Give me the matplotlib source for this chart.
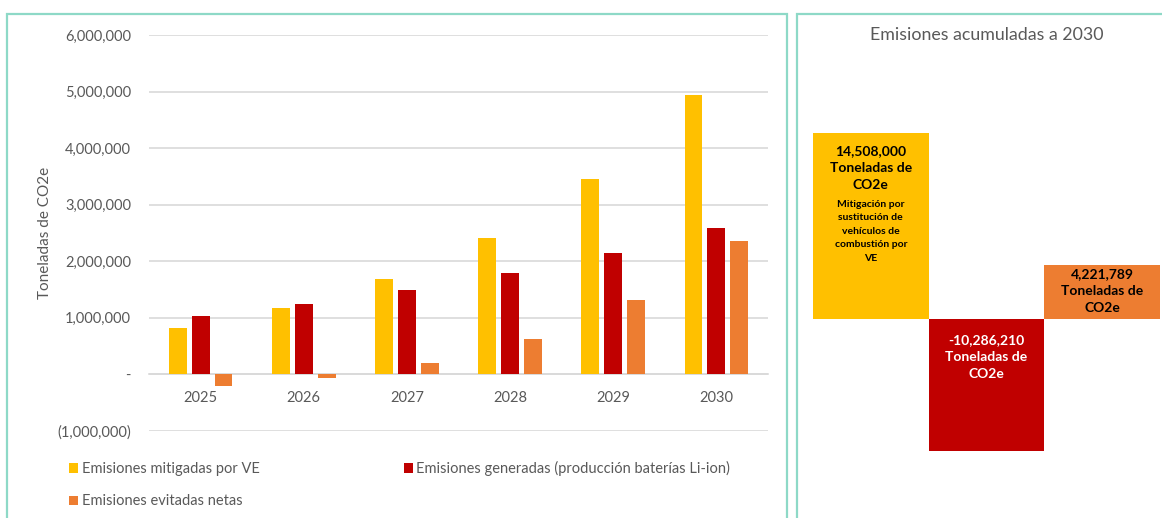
import matplotlib.pyplot as plt
import numpy as np
from matplotlib.patches import Rectangle
from matplotlib.ticker import FuncFormatter, MultipleLocator

plt.rcParams['font.family'] = ['Lato', 'DejaVu Sans']

# ========================================
# Datos
# ========================================
anios = ["2025", "2026", "2027", "2028", "2029", "2030"]
mitigadas = [820000, 1180000, 1690000, 2420000, 3460000, 4938000]
generadas = [1030000, 1250000, 1490000, 1790000, 2140000, 2586210]
netas = [-210000, -70000, 200000, 630000, 1320000, 2351789]

acum_labels = ["mitigadas", "generadas", "netas"]
acum_valores = [14508000, -10286210, 4221789]

# ========================================
# Colores
# ========================================
color_mitigadas = "#FFC000"
color_generadas = "#C00000"
color_netas = "#ED7D31"
color_texto = "#595959"
color_grid = "#D9D9D9"
color_borde = "#8ED9C7"

W, H = 1162, 518
fig = plt.figure(figsize=(W / 100, H / 100), dpi=100)

# marcos de los dos paneles
fig.patches.append(Rectangle((7 / W, -0.1), 780 / W, 1.1 - 14 / H, transform=fig.transFigure,
                             fill=False, edgecolor=color_borde, linewidth=1.6))
fig.patches.append(Rectangle((797 / W, -0.1), 0.5, 1.1 - 14 / H, transform=fig.transFigure,
                             fill=False, edgecolor=color_borde, linewidth=1.6))

# ==========================================================
#   Panel izquierdo: emisiones por año
# ==========================================================
ax = fig.add_axes([149 / W, (H - 431) / H, 619 / W, 396 / H])

x = np.arange(len(anios))
ancho = 0.174
paso = 0.222
ax.bar(x - paso, mitigadas, ancho, color=color_mitigadas, label="Emisiones mitigadas por VE", zorder=3)
ax.bar(x, generadas, ancho, color=color_generadas,
       label="Emisiones generadas (producción baterías Li-ion)", zorder=3)
ax.bar(x + paso, netas, ancho, color=color_netas, label="Emisiones evitadas netas", zorder=3)

ax.set_xlim(-0.5, len(anios) - 0.5)
ax.set_ylim(-1000000, 6000000)
ax.yaxis.set_major_locator(MultipleLocator(1000000))


def formato_miles(v, pos):
    if abs(v) < 1:
        return "-"
    if v < 0:
        return "({:,.0f})".format(-v)
    return "{:,.0f}".format(v)


ax.yaxis.set_major_formatter(FuncFormatter(formato_miles))
ax.grid(axis="y", color=color_grid, linewidth=1.2, zorder=0)
for s in ["top", "left", "right"]:
    ax.spines[s].set_visible(False)
ax.spines["bottom"].set_position(("data", 0))
ax.spines["bottom"].set_color(color_grid)
ax.spines["bottom"].set_linewidth(1.2)
ax.set_xticks(x)
ax.set_xticklabels(anios)
ax.tick_params(axis="x", length=0, pad=12, labelsize=10.5, labelcolor=color_texto)
ax.tick_params(axis="y", length=0, pad=13, labelsize=10.5, labelcolor=color_texto)
ax.set_ylabel("Toneladas de CO2e", fontsize=11, color=color_texto, labelpad=4)

h, l = ax.get_legend_handles_labels()
orden = [0, 2, 1]
fig.legend([h[i] for i in orden], [l[i] for i in orden], ncol=2,
           loc="upper left", bbox_to_anchor=(56 / W, 1 - 448 / H),
           frameon=False, fontsize=10.5, labelcolor=color_texto,
           handlelength=0.6, handleheight=0.6, handletextpad=0.25,
           columnspacing=9.9, labelspacing=1.25)

# ==========================================================
#   Panel derecho: emisiones acumuladas a 2030
# ==========================================================
fig.text(987 / W, 1 - 35 / H, "Emisiones acumuladas a 2030", ha="center", va="center",
         fontsize=12.8, color=color_texto)

ax2 = fig.add_axes([813 / W, (H - 500) / H, 347 / W, 440 / H])
xa = np.arange(len(acum_valores))
ax2.bar(xa, acum_valores, 1.0, color=[color_mitigadas, color_generadas, color_netas])
ax2.set_xlim(-0.5, 2.5)
ax2.set_ylim(-14120000, 20200000)
ax2.axis("off")

ax2.annotate("{:,.0f}\nToneladas de\nCO2e".format(acum_valores[0]),
             (xa[0], acum_valores[0]), xytext=(0, -9), textcoords="offset points",
             ha="center", va="top", fontsize=10, fontweight="bold", color="black",
             linespacing=1.5)
ax2.annotate("Mitigación por\nsustitución de\nvehículos de\ncombustión por\nVE",
             (xa[0], acum_valores[0]), xytext=(0, -48), textcoords="offset points",
             ha="center", va="top", fontsize=7.5, fontweight="bold", color="black",
             linespacing=1.65)
ax2.annotate("{:,.0f}\nToneladas de\nCO2e".format(acum_valores[1]),
             (xa[1], 0), xytext=(0, -11), textcoords="offset points",
             ha="center", va="top", fontsize=10, fontweight="bold", color="white",
             linespacing=1.5)
ax2.annotate("{:,.0f}\nToneladas de\nCO2e".format(acum_valores[2]),
             (xa[2], acum_valores[2]), xytext=(0, -2), textcoords="offset points",
             ha="center", va="top", fontsize=10, fontweight="bold", color="black",
             linespacing=1.5)

fig.savefig("out.png", dpi=100, facecolor="white")
